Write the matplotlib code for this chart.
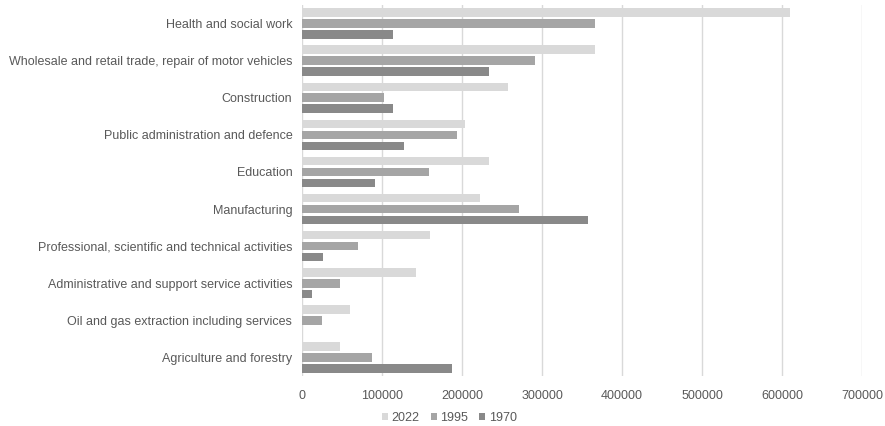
import numpy as np
import matplotlib
matplotlib.use("Agg")
import matplotlib.pyplot as plt

plt.rcParams['font.family'] = ['Liberation Sans', 'DejaVu Sans']

# Employment by industry (top to bottom as shown)
industries = [
    "Health and social work",
    "Wholesale and retail trade, repair of motor vehicles",
    "Construction",
    "Public administration and defence",
    "Education",
    "Manufacturing",
    "Professional, scientific and technical activities",
    "Administrative and support service activities",
    "Oil and gas extraction including services",
    "Agriculture and forestry",
]
years = ["2022", "1995", "1970"]
values_2022 = [610000, 366000, 258000, 204000, 234000, 222000, 160000, 142000, 60000, 48000]
values_1995 = [366000, 291000, 102000, 194000, 159000, 271000, 70000, 48000, 25000, 88000]
values_1970 = [114000, 234000, 114000, 127000, 91000, 357000, 26000, 13000, 0, 188000]
series = [values_2022, values_1995, values_1970]
colors = ["#d9d9d9", "#a5a5a5", "#898989"]
xticks = [0, 100000, 200000, 300000, 400000, 500000, 600000, 700000]

text_color = "#595959"
fs = 9

fig = plt.figure(figsize=(8.85, 4.26), dpi=100)
ax = fig.add_axes([302 / 885, 1 - 376 / 426, 560 / 885, 371 / 426])

y = np.arange(len(industries))
pitch = 0.296
height = 0.23
for i, (vals, col, lab) in enumerate(zip(series, colors, years)):
    ax.barh(y + (i - 1) * pitch, vals, height=height, color=col, label=lab, zorder=3)

ax.set_ylim(len(industries) - 0.5, -0.5)
ax.set_xlim(0, 700000)
ax.set_xticks(xticks)
ax.set_xticklabels([str(t) for t in xticks], fontsize=fs, color=text_color)
ax.set_yticks(y)
ax.set_yticklabels(industries, fontsize=fs, color=text_color)
ax.tick_params(axis='x', length=0, pad=10)
ax.tick_params(axis='y', length=0, pad=7)
ax.grid(axis='x', color="#d9d9d9", linewidth=1, zorder=0)
for s in ax.spines.values():
    s.set_visible(False)

handles, labels = ax.get_legend_handles_labels()
fig.legend(handles, labels, loc='center', bbox_to_anchor=(0.508, 1 - 418 / 426), ncol=3,
           frameon=False, fontsize=fs, labelcolor=text_color,
           handlelength=0.45, handleheight=0.45, handletextpad=0.3, columnspacing=0.9)

fig.savefig("out.png", dpi=100)
